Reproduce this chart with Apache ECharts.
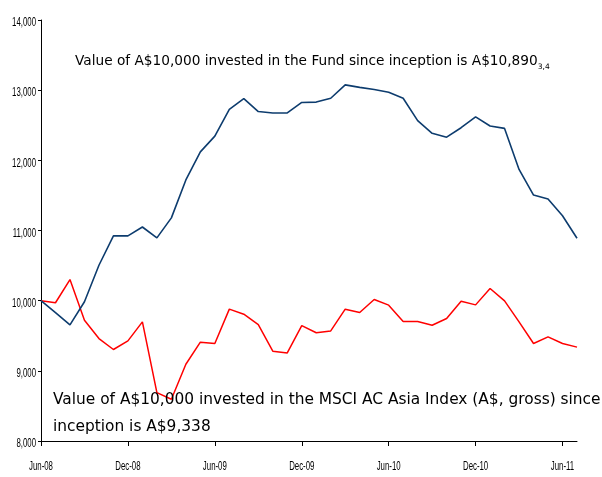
<!DOCTYPE html>
<html>
<head>
<meta charset="utf-8">
<script src="https://cdn.jsdelivr.net/npm/echarts@6/dist/echarts.min.js"></script>
<style>
  html, body { margin: 0; padding: 0; background: #fff; }
  #main { width: 602px; height: 477px; }
</style>
</head>
<body>
<div id="main"></div>
<script>
/**
 * =================================
 *      数据
 * =================================
 */
var months = [
  'Jun-08', 'Jul-08', 'Aug-08', 'Sep-08', 'Oct-08', 'Nov-08',
  'Dec-08', 'Jan-09', 'Feb-09', 'Mar-09', 'Apr-09', 'May-09',
  'Jun-09', 'Jul-09', 'Aug-09', 'Sep-09', 'Oct-09', 'Nov-09',
  'Dec-09', 'Jan-10', 'Feb-10', 'Mar-10', 'Apr-10', 'May-10',
  'Jun-10', 'Jul-10', 'Aug-10', 'Sep-10', 'Oct-10', 'Nov-10',
  'Dec-10', 'Jan-11', 'Feb-11', 'Mar-11', 'Apr-11', 'May-11',
  'Jun-11', 'Jul-11'
];

// Fund
var fundValues = [
  10000, 9830, 9655, 9985, 10505, 10924,
  10924, 11050, 10895, 11180, 11720, 12120,
  12345, 12725, 12880, 12695, 12675, 12675,
  12825, 12830, 12885, 13075, 13040, 13010,
  12970, 12885, 12565, 12385, 12330, 12465,
  12620, 12490, 12455, 11870, 11505, 11450,
  11210, 10890
];

// MSCI AC Asia Index
var indexValues = [
  10000, 9970, 10300, 9722, 9460, 9304,
  9427, 9698, 8690, 8595, 9094, 9408,
  9389, 9879, 9807, 9660, 9280, 9255,
  9644, 9543, 9569, 9879, 9832, 10017,
  9936, 9703, 9703, 9650, 9746, 9993,
  9940, 10174, 9997, 9698, 9389, 9484,
  9389, 9338
];

// 刻度
var yTicks = [8000, 9000, 10000, 11000, 12000, 13000, 14000];
var xLabelIndex = [0, 6, 12, 18, 24, 30, 36];

var fundNote = 'Value of A$10,000 invested in the Fund since inception is A$10,890';
var fundNoteSub = '3,4';
var indexNote1 = 'Value of A$10,000 invested in the MSCI AC Asia Index (A$, gross) since';
var indexNote2 = 'inception is A$9,338';

/**
 * =================================
 *      样式
 * =================================
 */
var AXIS_FONT = '"Liberation Sans", Arial, sans-serif';
var NOTE_FONT = '"DejaVu Sans", Verdana, sans-serif';
var AXIS_SQUEEZE = 0.58;   // 原图刻度字体很窄，横向压缩

function fmtThousands(v) {
  return String(v).replace(/\B(?=(\d{3})+(?!\d))/g, ',');
}

var myChart = echarts.init(document.getElementById('main'));

var noteGraphics = [
  {
    id: 'fundNote',
    type: 'text',
    left: 75,
    top: 54,
    z: 10,
    style: {
      text: '{a|' + fundNote + '}{s|' + fundNoteSub + '}',
      rich: {
        a: { fontFamily: NOTE_FONT, fontSize: 13.7, lineHeight: 20, verticalAlign: 'middle', fill: '#000' },
        s: { fontFamily: NOTE_FONT, fontSize: 7.5, lineHeight: 9, verticalAlign: 'bottom', fill: '#000' }
      }
    }
  },
  {
    id: 'indexNote',
    type: 'text',
    left: 53,
    top: 387,
    z: 10,
    style: {
      text: indexNote1 + '\n' + indexNote2,
      fontFamily: NOTE_FONT,
      fontSize: 15.4,
      lineHeight: 26.7,
      fill: '#000'
    }
  }
];

var option = {
  animation: false,
  backgroundColor: '#ffffff',
  grid: { left: 41, right: 25, top: 20, bottom: 36, containLabel: false, outerBoundsMode: 'none' },
  xAxis: {
    type: 'category',
    data: months,
    boundaryGap: false,
    axisLine: { lineStyle: { color: '#000', width: 1 } },
    axisTick: { interval: 5, length: 5, lineStyle: { color: '#000' } },
    axisLabel: { show: false },
    splitLine: { show: false }
  },
  yAxis: {
    type: 'value',
    min: yTicks[0],
    max: yTicks[yTicks.length - 1],
    interval: 1000,
    axisLine: { show: true, lineStyle: { color: '#000', width: 1 } },
    axisTick: { show: true, length: 3, lineStyle: { color: '#000' } },
    axisLabel: { show: false },
    splitLine: { show: false }
  },
  series: [
    {
      name: 'Fund',
      type: 'line',
      data: fundValues,
      symbol: 'none',
      lineStyle: { color: '#0d3c6e', width: 1.6 },
      z: 3
    },
    {
      name: 'MSCI AC Asia Index',
      type: 'line',
      data: indexValues,
      symbol: 'none',
      lineStyle: { color: '#ff0000', width: 1.5 },
      z: 2
    }
  ],
  graphic: noteGraphics
};

myChart.setOption(option);

/**
 * 刻度标签：用坐标轴换算位置，再横向压缩成窄字体的样子
 */
var tickGraphics = [];
yTicks.forEach(function (v) {
  var p = myChart.convertToPixel({ gridIndex: 0 }, [0, v]);
  tickGraphics.push({
    id: 'y' + v,
    type: 'text',
    x: p[0] - 5,
    y: p[1] + 2.5,
    scaleX: AXIS_SQUEEZE,
    silent: true,
    style: {
      text: fmtThousands(v),
      align: 'right',
      verticalAlign: 'middle',
      fontFamily: AXIS_FONT,
      fontSize: 13.5,
      fill: '#000'
    }
  });
});
xLabelIndex.forEach(function (i) {
  var p = myChart.convertToPixel({ gridIndex: 0 }, [i, yTicks[0]]);
  tickGraphics.push({
    id: 'x' + i,
    type: 'text',
    x: p[0],
    y: p[1] + 25,
    scaleX: AXIS_SQUEEZE,
    silent: true,
    style: {
      text: months[i],
      align: 'center',
      verticalAlign: 'middle',
      fontFamily: AXIS_FONT,
      fontSize: 13.5,
      fill: '#000'
    }
  });
});

myChart.setOption({ graphic: noteGraphics.concat(tickGraphics) });
</script>
</body>
</html>
